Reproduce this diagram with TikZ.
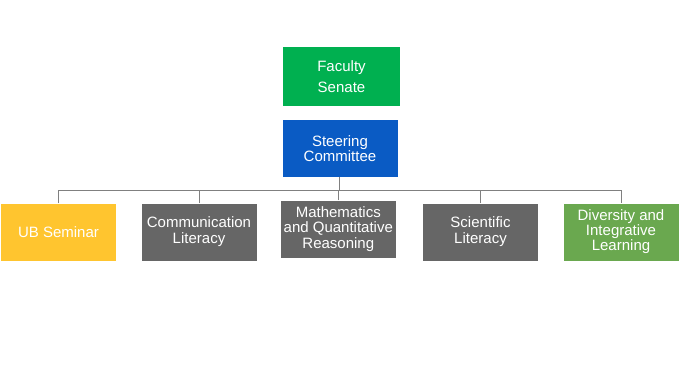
\documentclass[tikz,border=0pt]{standalone}
\usepackage{fontspec}
\setmainfont{Liberation Sans}
\usetikzlibrary{positioning}

\definecolor{senategreen}{HTML}{00B050}
\definecolor{steerblue}{HTML}{0A5BC4}
\definecolor{seminaryellow}{HTML}{FFC52F}
\definecolor{litgray}{HTML}{666666}
\definecolor{divgreen}{HTML}{6AA84F}
\definecolor{linkgray}{HTML}{808080}

\tikzset{
    unitbox/.style={minimum width=115pt, minimum height=57pt, inner sep=1pt,
        text=white, align=center, font=\fontsize{15}{16}\selectfont},
    link/.style={draw=linkgray, line width=0.9pt}
}

\begin{document}
\begin{tikzpicture}[x=1pt, y=-1pt]
        \useasboundingbox (0,0) rectangle (680,381);

        \node[unitbox, fill=senategreen, minimum width=117pt, minimum height=59pt,
              font=\fontsize{15}{21.5}\selectfont] (senate) at (341.5,76.5) {Faculty\\Senate};
        \node[unitbox, fill=steerblue, font=\fontsize{15}{15}\selectfont] (steer) at (340,148.5) {Steering\\Committee};

        \node[unitbox, fill=seminaryellow] (seminar) at (58.5,232) {UB Seminar};
        \node[unitbox, fill=litgray] (comm) at (199,232) {Communication\\Literacy};
        \node[unitbox, fill=litgray, font=\fontsize{15}{15.5}\selectfont] (math) at (338.3,229) {Mathematics\\and Quantitative\\Reasoning};
        \node[unitbox, fill=litgray] (sci) at (480.5,232) {Scientific\\Literacy};
        \node[unitbox, fill=divgreen, font=\fontsize{15}{15}\selectfont] (div) at (621,232) {Diversity and\\Integrative\\Learning};

        \coordinate (bar) at (339.3,190);

        \draw[link] (steer.south -| bar) -- (bar);
        \draw[link] (seminar.north) -- (seminar.north |- bar) -- (div.north |- bar) -- (div.north);
        \draw[link] (comm.north) -- (comm.north |- bar);
        \draw[link] (math.north) -- (math.north |- bar);
        \draw[link] (sci.north) -- (sci.north |- bar);
    \end{tikzpicture}
\end{document}
